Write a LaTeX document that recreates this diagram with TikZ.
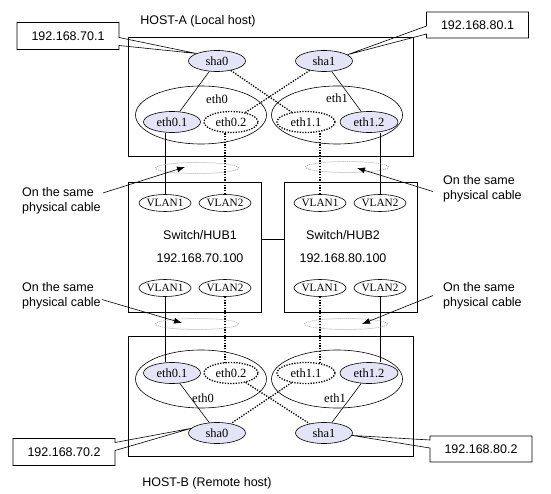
\documentclass[tikz,border=0pt]{standalone}
\usepackage{fontspec}
\setmainfont{Liberation Serif}
\newfontfamily\arialfont{Liberation Sans}
\usepackage{tikz}
\usetikzlibrary{arrows.meta,shapes.geometric,shapes.callouts}
\definecolor{lav}{RGB}{228,228,246}

\begin{document}
\begin{tikzpicture}[
      x=1pt, y=-1pt,
      >={Latex[length=8pt,width=6pt]},
      box/.style={draw,rectangle,inner sep=0pt,line width=0.6pt},
      wire/.style={line width=0.6pt},
      dotline/.style={line width=1.3pt,dash pattern=on 1.3pt off 1.4pt},
      port/.style={ellipse,draw,inner sep=0pt,line width=0.6pt,minimum width=57pt,minimum height=21pt,font=\fontsize{12.5}{14}\selectfont},
      live/.style={port,fill=lav},
      idle/.style={port,fill=white,dotline},
      nic/.style={ellipse,draw,inner sep=0pt,line width=0.6pt,minimum width=131pt,minimum height=58pt},
      lab/.style={inner sep=0pt,font=\fontsize{12.5}{14}\selectfont},
      vlan/.style={ellipse,draw,fill=white,inner sep=0pt,line width=0.6pt,minimum width=48pt,minimum height=17pt,font=\fontsize{11.2}{12}\selectfont},
      ip/.style={rectangle callout,draw,line width=0.6pt,inner sep=0pt,minimum width=102pt,minimum height=27pt,callout pointer width=8pt,font=\arialfont\fontsize{12.5}{14}\selectfont},
      txt/.style={inner sep=0pt,font=\arialfont\fontsize{12.5}{14}\selectfont},
      note/.style={align=left,inner sep=0pt,font=\arialfont\fontsize{12.5}{15}\selectfont},
      cable/.style={ellipse,draw=gray!65,dash pattern=on 1pt off 1pt,line width=0.8pt,minimum width=83pt,minimum height=11pt,inner sep=0pt}
    ]
    \useasboundingbox (0,0) rectangle (551,494);

    % HOST-A
    \node[box,minimum width=285pt,minimum height=119pt] (hostA) at (270.5,96.5) {};
    \node[txt] (hostAlab) at (198,21) {HOST-A (Local host)};
    \node[nic] (e0A) at (201,115) {};
    \node[nic] (e1A) at (337,115) {};
    \node[lab] (e0Alab) at (217,99) {eth0};
    \node[lab] (e1Alab) at (337,98) {eth1};
    \node[live] (sha0A) at (217,61) {sha0};
    \node[live] (sha1A) at (324,61) {sha1};
    \node[live] (e01A) at (172,122) {eth0.1};
    \node[idle,minimum width=54pt] (e02A) at (231,122) {eth0.2};
    \node[idle,minimum width=58pt] (e11A) at (306,122) {eth1.1};
    \node[live,minimum width=58pt] (e12A) at (369,122) {eth1.2};

    \draw[wire] (sha0A) -- (e01A);
    \draw[dotline] (sha0A) -- (e11A);
    \draw[dotline] (sha1A) -- (e02A);
    \draw[wire] (sha1A) -- (e12A);

    \node[ip,callout absolute pointer={(sha0A.160)}] (ipA0) at (68,36) {192.168.70.1};
    \node[ip,minimum height=26pt,callout absolute pointer={(sha1A.15)}] (ipA1) at (477.5,25) {192.168.80.1};

    % Switches
    \node[box,minimum width=133pt,minimum height=130pt] (sw1) at (194.5,247) {};
    \node[box,minimum width=133pt,minimum height=130pt] (sw2) at (350.5,247) {};
    \node[txt] (sw1name) at (200,235) {Switch/HUB1};
    \node[txt] (sw1ip) at (200,258) {192.168.70.100};
    \node[txt] (sw2name) at (343,235) {Switch/HUB2};
    \node[txt] (sw2ip) at (343,258) {192.168.80.100};
    \draw[wire] ([yshift=8pt]sw1.east) -- ([yshift=8pt]sw2.west);

    \node[vlan] (s1up1) at (165,203) {VLAN1};
    \node[vlan] (s1up2) at (225,203) {VLAN2};
    \node[vlan] (s2up1) at (320,203) {VLAN1};
    \node[vlan] (s2up2) at (380,203) {VLAN2};
    \node[vlan] (s1dn1) at (165,288) {VLAN1};
    \node[vlan] (s1dn2) at (225,288) {VLAN2};
    \node[vlan] (s2dn1) at (320,288) {VLAN1};
    \node[vlan] (s2dn2) at (380,288) {VLAN2};

    % HOST-B
    \node[box,minimum width=285pt,minimum height=120pt] (hostB) at (270.5,396) {};
    \node[txt] (hostBlab) at (207,483) {HOST-B (Remote host)};
    \node[nic] (e0B) at (201,379) {};
    \node[nic] (e1B) at (337,379) {};
    \node[lab] (e0Blab) at (203,398) {eth0};
    \node[lab] (e1Blab) at (335,398) {eth1};
    \node[live] (e01B) at (172,373) {eth0.1};
    \node[idle,minimum width=54pt] (e02B) at (231,373) {eth0.2};
    \node[idle,minimum width=58pt] (e11B) at (306,373) {eth1.1};
    \node[live,minimum width=58pt] (e12B) at (369,373) {eth1.2};
    \node[live] (sha0B) at (217,433) {sha0};
    \node[live] (sha1B) at (324,433) {sha1};

    \draw[wire] (e01B) -- (sha0B);
    \draw[dotline] (e11B) -- (sha0B);
    \draw[dotline] (e02B) -- (sha1B);
    \draw[wire] (e12B) -- (sha1B);

    \node[ip,callout absolute pointer={(sha0B.170)}] (ipB0) at (64,452) {192.168.70.2};
    \node[ip,minimum height=26pt,callout absolute pointer={(sha1B.355)}] (ipB1) at (481,449) {192.168.80.2};

    % Cables
    \draw[wire] (s1up1.north) -- (s1up1.north |- e01A.south);
    \draw[dotline] (s1up2.north) -- (s1up2.north |- e02A.south);
    \draw[dotline] (s2up1.north) -- (s2up1.north |- e11A.south);
    \draw[wire] (s2up2.north) -- (s2up2.north |- e12A.south);
    \draw[wire] (s1dn1.south) -- (s1dn1.south |- e01B.north);
    \draw[dotline] (s1dn2.south) -- (s1dn2.south |- e02B.north);
    \draw[dotline] (s2dn1.south) -- (s2dn1.south |- e11B.north);
    \draw[wire] (s2dn2.south) -- (s2dn2.south |- e12B.north);

    \node[cable] (cabA1) at (197,168) {};
    \node[cable] (cabA2) at (347,167) {};
    \node[cable] (cabB1) at (197,324) {};
    \node[cable] (cabB2) at (346,324) {};

    % Notes
    \node[note,anchor=north west] (noteA1) at (22,187) {On the same\\physical cable};
    \node[note,anchor=north west] (noteA2) at (443,175) {On the same\\physical cable};
    \node[note,anchor=north west] (noteB1) at (22,282) {On the same\\physical cable};
    \node[note,anchor=north west] (noteB2) at (443,282) {On the same\\physical cable};

    \coordinate (tipA1) at (185,167);
    \coordinate (tipA2) at (357,168);
    \coordinate (tipB1) at (182,323);
    \coordinate (tipB2) at (362,324);

    \draw[wire,->] ([shift={(2pt,-6pt)}]noteA1.north east) -- (tipA1);
    \draw[wire,->] ([shift={(-10pt,-3pt)}]noteA2.west) -- (tipA2);
    \draw[wire,->] ([shift={(1pt,-4pt)}]noteB1.east) -- (tipB1);
    \draw[wire,->] ([xshift=-10pt]noteB2.west) -- (tipB2);

  \end{tikzpicture}
\end{document}
